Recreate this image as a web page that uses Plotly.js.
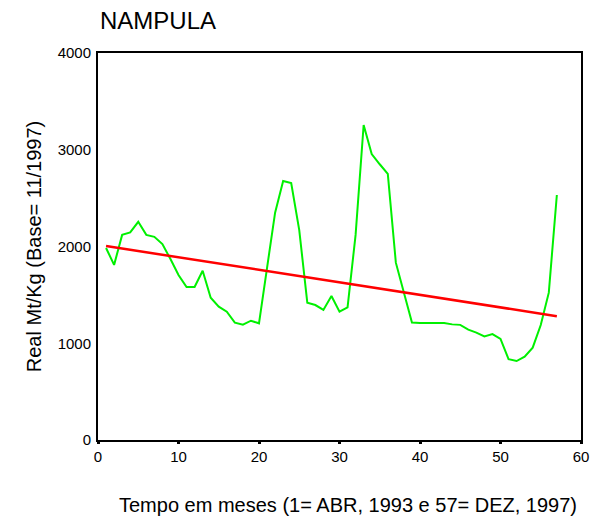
<!DOCTYPE html>
<html>
<head>
<meta charset="utf-8">
<script src="https://cdn.plot.ly/plotly-3.0.1.min.js"></script>
<style>html,body{margin:0;padding:0;background:#fff}#chart{width:591px;height:518px}</style>
</head>
<body>
<div id="chart"></div>
<script>
const months = [1,2,3,4,5,6,7,8,9,10,11,12,13,14,15,16,17,18,19,20,21,22,23,24,25,26,27,28,29,30,31,32,33,34,35,36,37,38,39,40,41,42,43,44,45,46,47,48,49,50,51,52,53,54,55,56,57];
const priceReal = [1985,1810,2120,2145,2255,2120,2100,2025,1870,1705,1582,1582,1750,1470,1378,1326,1213,1192,1233,1206,1780,2350,2677,2656,2170,1419,1395,1344,1488,1326,1371,2120,3256,2956,2850,2750,1833,1520,1215,1210,1210,1210,1210,1195,1190,1140,1110,1070,1095,1045,835,816,861,954,1189,1523,2532];
const trend = [2005,1992,1979,1966,1953,1940,1927,1914,1901,1888,1875,1862,1850,1837,1824,1811,1798,1785,1772,1759,1746,1733,1720,1707,1694,1681,1668,1655,1642,1629,1616,1603,1591,1578,1565,1552,1539,1526,1513,1500,1487,1474,1461,1448,1435,1422,1409,1396,1383,1370,1357,1344,1331,1318,1305,1292,1280];
const xTicks = [0,10,20,30,40,50,60];
const yTicks = [0,1000,2000,3000,4000];
const xTitle = 'Tempo em meses (1= ABR, 1993 e 57= DEZ, 1997)';

const font = 'Liberation Sans, Arial, sans-serif';
Plotly.newPlot('chart', [
  {x: months, y: priceReal, type: 'scatter', mode: 'lines', line: {color: '#00f000', width: 2}, hoverinfo: 'skip'},
  {x: months, y: trend, type: 'scatter', mode: 'lines', line: {color: '#ff0000', width: 2.5}, hoverinfo: 'skip'}
], {
  width: 591, height: 518,
  margin: {l: 98, r: 10, t: 53, b: 78},
  paper_bgcolor: '#fff', plot_bgcolor: '#fff',
  showlegend: false,
  font: {family: font, color: '#000'},
  title: {text: 'NAMPULA', font: {family: font, size: 24, color: '#000'}, xref: 'container', yref: 'container', x: 100/591, xanchor: 'left', y: 1 - 21/518, yanchor: 'middle'},
  annotations: [{text: xTitle, xref: 'paper', yref: 'paper', x: (348 - 98) / 483, y: -65 / 387, xanchor: 'center', yanchor: 'middle', showarrow: false, font: {size: 20, family: font, color: '#000'}}],
  xaxis: {
    range: [0, 60], tickvals: xTicks, ticktext: xTicks.map(String),
    showgrid: false, zeroline: false, showline: true, linecolor: '#000', linewidth: 2, mirror: true,
    ticks: 'outside', ticklen: 2, tickwidth: 3, tickcolor: '#000',
    tickfont: {size: 15, family: font},
    automargin: false
  },
  yaxis: {
    range: [0, 4000], tickvals: yTicks, ticktext: yTicks.map(String),
    showgrid: false, zeroline: false, showline: true, linecolor: '#000', linewidth: 2, mirror: true,
    ticks: '', tickfont: {size: 15, family: font}, ticklabelstandoff: 2,
    title: {text: 'Real Mt/Kg (Base= 11/1997)', font: {size: 20, family: font}, standoff: 11},
    automargin: false
  }
}, {staticPlot: true, displayModeBar: false});
</script>
</body>
</html>
